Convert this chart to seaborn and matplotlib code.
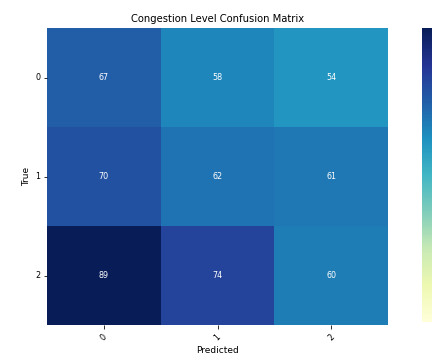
import numpy as np
import pandas as pd
import matplotlib
matplotlib.use("Agg")
import matplotlib.pyplot as plt
import seaborn as sns

labels = ["0", "1", "2"]
row_0 = [67, 58, 54]
row_1 = [70, 62, 61]
row_2 = [89, 74, 60]

cm = pd.DataFrame([row_0, row_1, row_2], index=labels, columns=labels)

fig = plt.figure(figsize=(6, 5), dpi=72)
ax = fig.add_axes([0.109, 0.097, 0.789, 0.825])
cax = fig.add_axes([0.977, 0.105, 0.045, 0.817])

sns.heatmap(cm, annot=True, fmt="d", cmap="YlGnBu", vmin=0, ax=ax, cbar_ax=cax,
            annot_kws={"fontsize": 8})
ax.set_title("Congestion Level Confusion Matrix", fontsize=10)
ax.set_xlabel("Predicted", fontsize=9)
ax.set_ylabel("True", fontsize=9)
ax.tick_params(labelsize=8)
plt.setp(ax.get_xticklabels(), rotation=45)
plt.setp(ax.get_yticklabels(), rotation=0)
# colorbar runs off the right edge in the original, its labels are not visible
cax.tick_params(labelright=False, right=False)

fig.savefig("out.png", dpi=72)
